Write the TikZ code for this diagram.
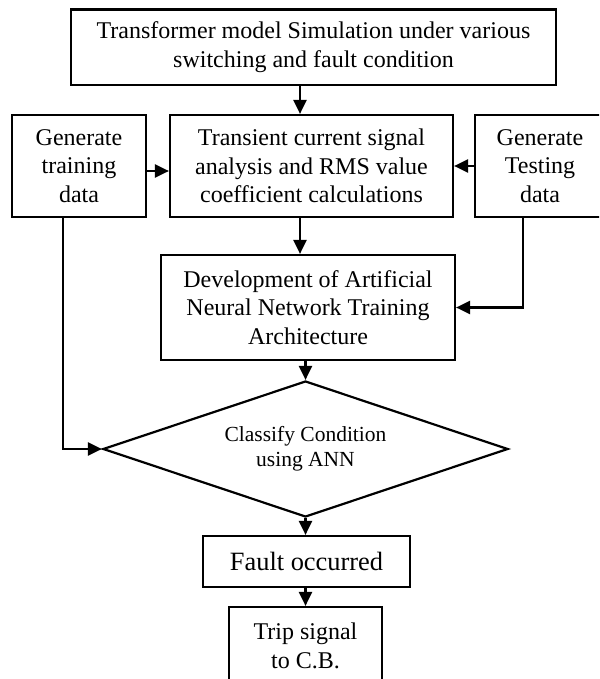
\documentclass[tikz,border=0pt]{standalone}
\usepackage{fontspec}
\setmainfont{Liberation Serif}
\usetikzlibrary{shapes.geometric,arrows.meta}
\begin{document}
\begin{tikzpicture}[x=1pt,y=-1pt,
  box/.style={draw,line width=2.2pt,rectangle,align=center,inner sep=0pt,
    font=\fontsize{24}{28.5}\selectfont},
  arr/.style={line width=2.2pt,-{Triangle[length=14pt,width=13pt]}},
  line/.style={line width=2.2pt}]
\useasboundingbox (0,0) rectangle (599,679);
\clip (0,0) rectangle (599,679);
\node[box,minimum width=485pt,minimum height=75.5pt] (top) at (313.5,47.25)
  {Transformer model Simulation under various\\switching and fault condition};
\node[box,minimum width=134pt,minimum height=102pt] (train) at (79,166)
  {Generate\\training\\data};
\node[box,minimum width=283pt,minimum height=102pt] (trans) at (311.5,166)
  {Transient current signal\\analysis and RMS value\\coefficient calculations};
\node[box,minimum width=130pt,minimum height=102pt] (test) at (540,166)
  {Generate\\Testing\\data};
\node[box,minimum width=294pt,minimum height=105pt] (ann) at (308,307.5)
  {Development of Artificial\\Neural Network Training\\Architecture};
\node[draw,line width=2.2pt,diamond,aspect=3,inner sep=0pt,minimum width=405pt,
  minimum height=136pt,align=center,font=\fontsize{21.5}{25}\selectfont] (dia) at (305.5,449)
  {\raisebox{-4pt}{Classify Condition}\\\raisebox{-4pt}{using ANN}};
\node[box,minimum width=207pt,minimum height=51pt,font=\fontsize{26.4}{30}\selectfont] (fault) at (306.5,561.5)
  {Fault occurred};
\node[box,minimum width=153pt,minimum height=78pt] (trip) at (305.5,646)
  {Trip signal\\to C.B.};
% connectors
\draw[arr] ([xshift=-13.5pt]top.south) -- ([xshift=-13.5pt]top.south |- trans.north);
\draw[arr] ([yshift=-5pt]train.east) -- ([yshift=-5pt]train.east -| trans.west);
\draw[arr] (test.west) -- (test.west -| trans.east);
\draw[arr] ([xshift=-11.5pt]trans.south) -- ([xshift=-11.5pt]trans.south |- ann.north);
\draw[arr] ([xshift=-17pt]test.south) |- (ann.east);
\draw[arr] (ann.south -| dia.north) -- (dia.north);
\draw[arr] ([xshift=-16pt]train.south) |- (dia.west);
\draw[arr] (dia.south) -- (dia.south |- fault.north);
\draw[arr] (fault.south -| trip.north) -- (trip.north);
\end{tikzpicture}
\end{document}
